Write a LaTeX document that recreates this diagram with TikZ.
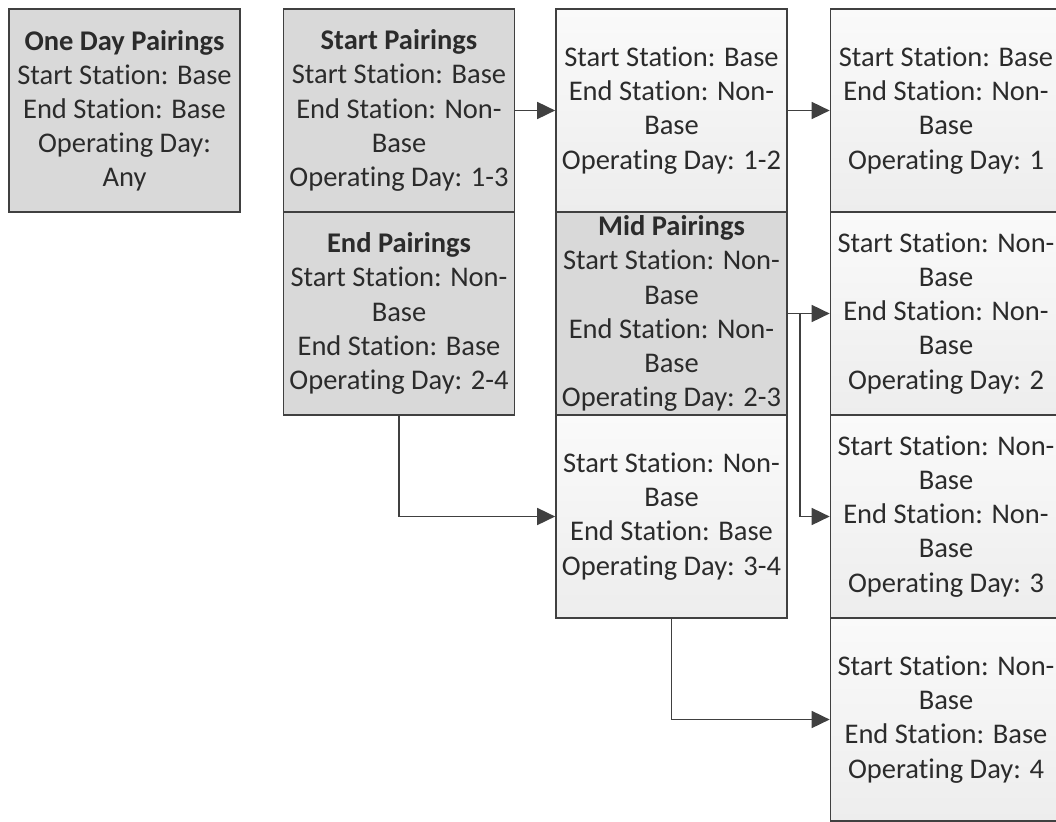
\documentclass[tikz,border=0pt]{standalone}
\usepackage{fontspec}
\setmainfont[Ligatures={NoCommon}]{Carlito}
\usetikzlibrary{arrows.meta}
\definecolor{dk}{HTML}{D9D9D9}
\definecolor{ltop}{HTML}{FAFAFA}
\definecolor{lbot}{HTML}{EDEDED}
\definecolor{bd}{HTML}{404040}
\definecolor{tx}{HTML}{2B2B2B}
\begin{document}
\begin{tikzpicture}[x=1pt,y=-1pt,
 box/.style={draw=bd,line width=1.7pt,minimum width=231pt,minimum height=203pt,inner sep=0pt,align=center,text=tx,font=\fontsize{28.5}{34.1}\selectfont},
 darkbox/.style={box,fill=dk},
 lightbox/.style={box,top color=ltop,bottom color=lbot},
 conn/.style={draw=bd,line width=1.7pt,-{Triangle[length=18pt,width=17pt]}}]
\useasboundingbox (0,0) rectangle (1056,821);
\fill[white] (0,0) rectangle (1056,821);
\node[darkbox] (oneday) at (124.5,110.5) {\textbf{One Day Pairings}\\Start Station: Base\\End Station: Base\\Operating Day:\\Any};
\node[darkbox] (start) at (399,110.5) {\textbf{Start Pairings}\\Start Station: Base\\End Station: Non-\\Base\\Operating Day: 1-3};
\node[darkbox] (end) at (399,313.5) {\textbf{End Pairings}\\Start Station: Non-\\Base\\End Station: Base\\Operating Day: 2-4};
\node[lightbox] (s12) at (671.5,110.5) {Start Station: Base\\End Station: Non-\\Base\\Operating Day: 1-2};
\node[darkbox] (mid) at (671.5,313.5) {\textbf{Mid Pairings}\\Start Station: Non-\\Base\\End Station: Non-\\Base\\Operating Day: 2-3};
\node[lightbox] (e34) at (671.5,516.5) {Start Station: Non-\\Base\\End Station: Base\\Operating Day: 3-4};
\node[lightbox] (d1) at (946,110.5) {Start Station: Base\\End Station: Non-\\Base\\Operating Day: 1};
\node[lightbox] (d2) at (946,313.5) {Start Station: Non-\\Base\\End Station: Non-\\Base\\Operating Day: 2};
\node[lightbox] (d3) at (946,516.5) {Start Station: Non-\\Base\\End Station: Non-\\Base\\Operating Day: 3};
\node[lightbox] (d4) at (946,719.5) {Start Station: Non-\\Base\\End Station: Base\\Operating Day: 4};
\draw[conn] (start.east) -- (s12.west);
\draw[conn] (s12.east) -- (d1.west);
\draw[conn] (mid.east) -- (d2.west);
\coordinate (j) at (800,313.5);
\draw[conn] (j) |- (d3.west);
\draw[conn] (end.south) |- (e34.west);
\draw[conn] (e34.south) |- (d4.west);
\end{tikzpicture}
\end{document}
